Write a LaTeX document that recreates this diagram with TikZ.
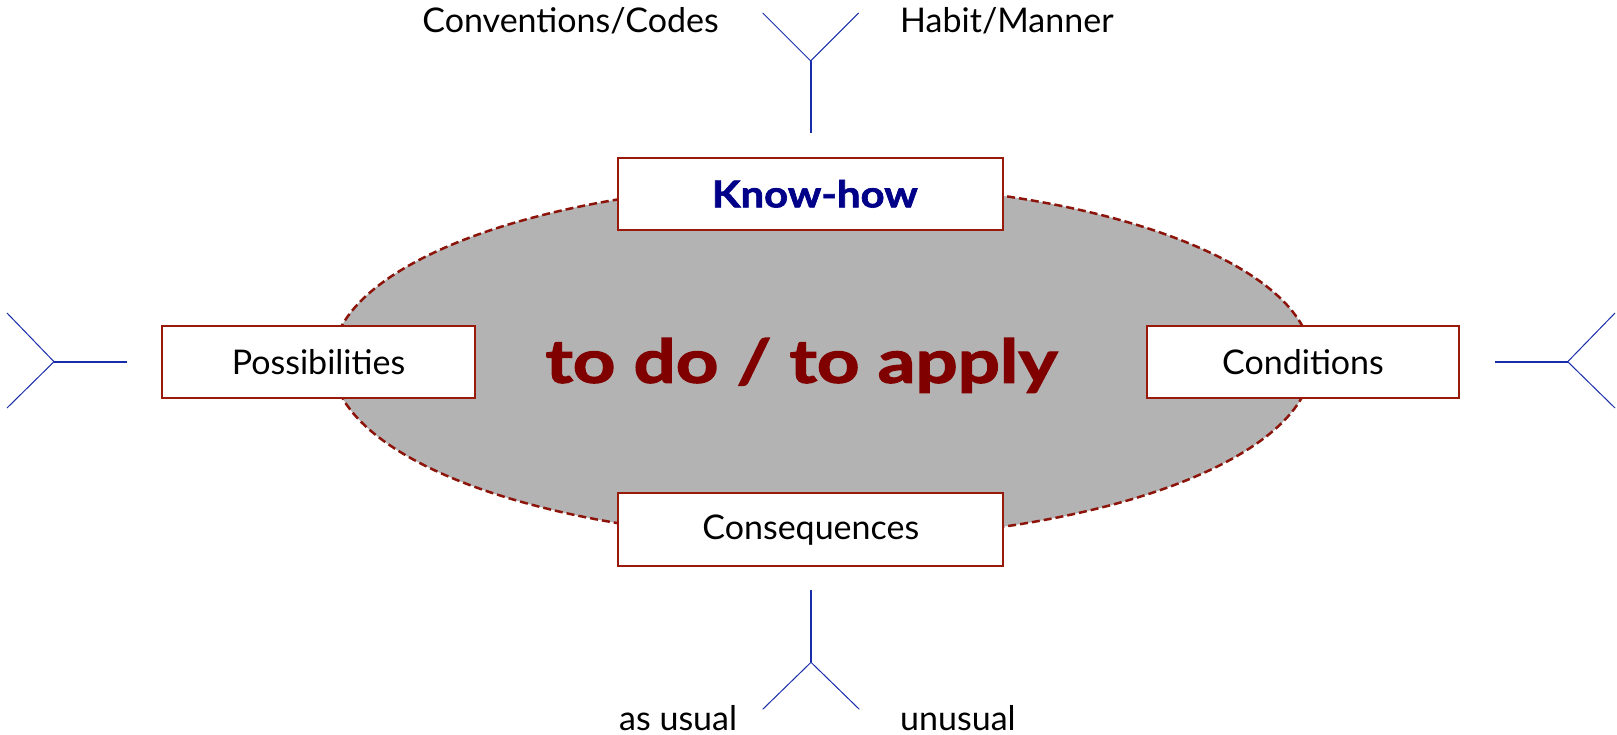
\documentclass[tikz,border=0pt]{standalone}
\usepackage{fontspec}
\setmainfont{Lato}
\newfontfamily\heavymain{Lato}[FakeBold=2.2, FakeStretch=1.24, BoldFont={* Bold}]
\newfontfamily\heavykh{Lato}[FakeBold=1.8, FakeStretch=1.13, BoldFont={* Bold}]
\usetikzlibrary{shapes.geometric}
\definecolor{boxred}{RGB}{153,26,10}
\definecolor{ellred}{RGB}{140,20,10}
\definecolor{ellgray}{RGB}{179,179,179}
\definecolor{txtred}{RGB}{128,0,0}
\definecolor{knavy}{RGB}{0,0,136}
\definecolor{lineblue}{RGB}{25,45,170}
\begin{document}
\begin{tikzpicture}[x=1pt,y=-1pt,
  lbl/.style={font=\fontsize{34}{40}\selectfont, inner sep=0pt},
  box/.style={draw=boxred, line width=2pt, fill=white, inner sep=0pt,
    minimum height=72.5pt, font=\fontsize{34}{40}\selectfont},
  stem/.style={draw=lineblue, line width=1.7pt},
  arm/.style={draw=lineblue, line width=1pt}]
\useasboundingbox (0,0) rectangle (1617,735);
\node[ellipse, draw=ellred, dashed, dash pattern=on 8pt off 4pt, line width=2.5pt,
  fill=ellgray, minimum width=980pt, minimum height=356pt, inner sep=0pt] (el) at (822,361.3) {};
\node[anchor=base, text=txtred, font=\fontsize{60}{70}\selectfont\heavymain\bfseries, inner sep=0pt] (main) at (801.5,382.7) {to do / to apply};
\node[box, minimum width=385pt] (kh) at (810.8,193.8) {\hspace{8pt}\textcolor{knavy}{\fontsize{37}{44}\selectfont\heavykh\bfseries Know-how}};
\node[box, minimum width=313pt] (poss) at (318.5,362) {Possibilities};
\node[box, minimum width=312.6pt] (cond) at (1303,361.9) {Conditions};
\node[box, minimum width=385pt] (cons) at (810.8,529.7) {Consequences};
% top trident
\coordinate (ts) at (810.7,133);
\coordinate (tj) at (810.7,61);
\coordinate (tl) at (762.7,13);
\coordinate (tr) at (858.7,13);
\draw[stem] (ts) -- (tj);
\draw[arm] (tl) -- (tj) -- (tr);
% bottom trident
\coordinate (bs) at (811,590);
\coordinate (bj) at (811,662.3);
\coordinate (bl) at (762.7,709.3);
\coordinate (br) at (859.3,709.3);
\draw[stem] (bs) -- (bj);
\draw[arm] (bl) -- (bj) -- (br);
% left trident
\coordinate (ls) at (127,361.7);
\coordinate (lj) at (54,361.7);
\coordinate (lt) at (7,313);
\coordinate (lb) at (7,408);
\draw[stem] (ls) -- (lj);
\draw[arm] (lt) -- (lj) -- (lb);
% right trident
\coordinate (rs) at (1495,361.7);
\coordinate (rj) at (1567.7,361.7);
\coordinate (rt) at (1615,313);
\coordinate (rb) at (1615,408);
\draw[stem] (rs) -- (rj);
\draw[arm] (rt) -- (rj) -- (rb);
% labels
\node[lbl, anchor=base east] (cc) at (719,33) {Conventions/Codes};
\node[lbl, anchor=base west] (hm) at (900,33) {Habit/Manner};
\node[lbl, anchor=base west] (au) at (619,730) {as usual};
\node[lbl, anchor=base west] (un) at (900,730) {unusual};
\end{tikzpicture}
\end{document}
